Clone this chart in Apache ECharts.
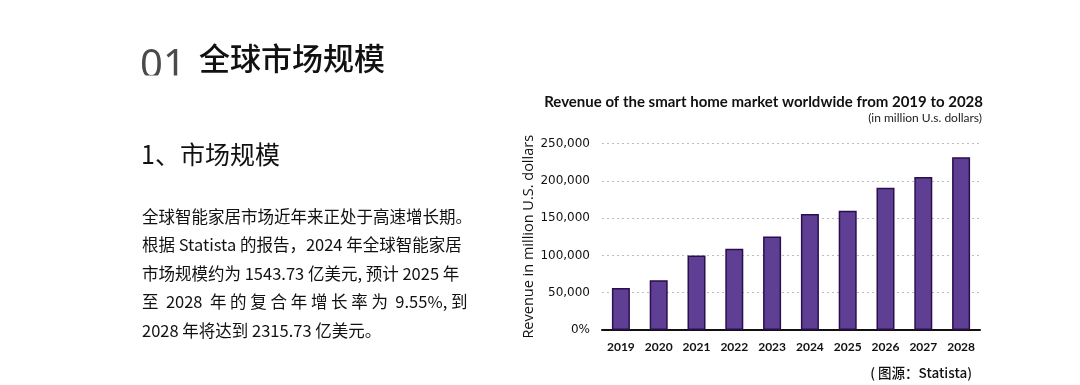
<!DOCTYPE html>
<html>
<head>
<meta charset="utf-8">
<script src="https://cdn.jsdelivr.net/npm/echarts@6/dist/echarts.min.js"></script>
<style>
html,body{margin:0;padding:0;background:#fff;}
#c{width:1080px;height:385px;}
</style>
</head>
<body>
<div id="c"></div>
<script>
const years = ['2019','2020','2021','2022','2023','2024','2025','2026','2027','2028'];
const revenue = [56300, 66800, 99700, 108800, 125500, 155400, 159800, 190600, 205200, 231600];
const yMax = 250000;
const yStep = 50000;

const chartTitle = 'Revenue of the smart home market worldwide from 2019 to 2028';
const chartSubtitle = '(in million U.s. dollars)';
const yAxisName = 'Revenue in million U.S. dollars';
const sourceText = '( 图源：Statista)';

const headingNum = '01';
const headingText = '全球市场规模';
const subHeading = '1、市场规模';
const paragraph = [
  '全球智能家居市场近年来正处于高速增长期。',
  '根据 Statista 的报告，2024 年全球智能家居',
  '市场规模约为 1543.73 亿美元, 预计 2025 年',
  '至  2028  年 的 复 合 年 增 长 率 为  9.55%, 到',
  '2028 年将达到 2315.73 亿美元。'
];

const cjk = '"Noto Sans CJK SC", "Noto Sans", sans-serif';
const chart = echarts.init(document.getElementById('c'), null, {renderer: 'canvas'});

const paraGraphics = paragraph.map((t, i) => ({
  type: 'text', left: 142, top: 208 + i * 28.6,
  style: {text: t, font: '400 16.5px ' + cjk, fill: '#111'}
}));

chart.setOption({
  animation: false,
  grid: {left: 602, right: 100, top: 143.5, bottom: 55},
  xAxis: {
    type: 'category',
    data: years,
    axisLine: {lineStyle: {color: '#111', width: 2}},
    axisTick: {show: false},
    axisLabel: {margin: 11, fontSize: 12, color: '#111', fontFamily: 'Lato, sans-serif', fontWeight: 'bold'}
  },
  yAxis: {
    type: 'value',
    min: 0, max: yMax, interval: yStep,
    name: yAxisName,
    nameLocation: 'middle',
    nameGap: 61,
    nameTextStyle: {fontSize: 14.5, color: '#111', fontFamily: '"Open Sans", sans-serif'},
    axisLine: {show: false},
    axisTick: {show: false},
    axisLabel: {
      margin: 12, fontSize: 12, color: '#111', fontFamily: '"DejaVu Sans", sans-serif',
      formatter: v => v === 0 ? '0%' : v.toLocaleString('en-US')
    },
    splitLine: {lineStyle: {color: '#bdbdbd', type: [2, 3], width: 1}}
  },
  series: [{
    type: 'bar',
    data: revenue,
    barWidth: 18,
    itemStyle: {color: '#5f3f94', borderColor: '#2a0f4e', borderWidth: 1.5}
  }],
  graphic: [
    {type: 'text', right: 97, top: 95, style: {text: chartTitle, font: 'bold 15px Lato, sans-serif', fill: '#111', textAlign: 'right'}},
    {type: 'text', right: 98, top: 112, style: {text: chartSubtitle, font: '12px Lato, sans-serif', fill: '#222', textAlign: 'right'}},
    {type: 'text', right: 108, top: 366, style: {text: sourceText, font: '500 13.5px ' + cjk, fill: '#111', textAlign: 'right'}},
    {type: 'text', left: 140, top: 47, style: {text: headingNum, font: '400 40px "Noto Sans", sans-serif', fill: '#4a4a4a'}},
    {type: 'rect', left: 136, top: 75.5, z: 100, shape: {width: 60, height: 20}, style: {fill: '#fff'}},
    {type: 'text', left: 199, top: 43, style: {text: headingText, font: '500 31px ' + cjk, fill: '#111'}},
    {type: 'text', left: 141, top: 142, style: {text: subHeading, font: '400 25px ' + cjk, fill: '#111'}},
    ...paraGraphics
  ]
});
</script>
</body>
</html>
